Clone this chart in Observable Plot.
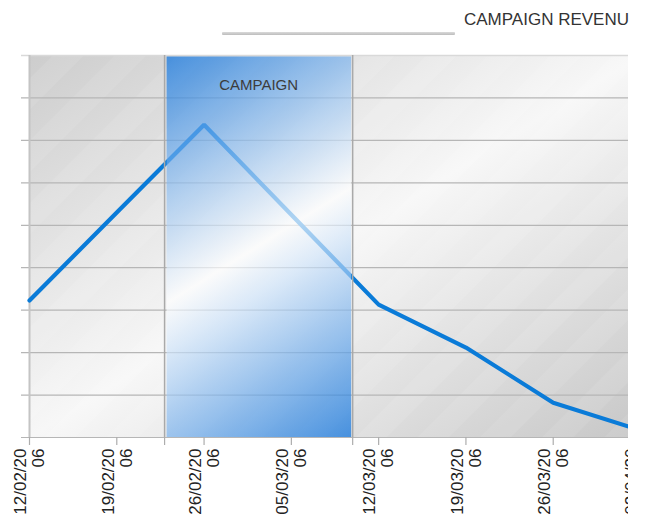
<!DOCTYPE html>
<html>
<head>
<meta charset="utf-8">
<script src="https://cdn.jsdelivr.net/npm/d3@7"></script>
<script src="https://cdn.jsdelivr.net/npm/@observablehq/plot@0.6"></script>
<style>
  body { margin: 0; background: #fff; font-family: "Liberation Sans", Arial, sans-serif; }
  #header { position: relative; width: 645px; height: 45px; }
  #title { position: absolute; left: 464px; top: 11px; font-size: 17px; line-height: 17px; color: #333; white-space: nowrap; }
  #bar { position: absolute; left: 222px; top: 32px; width: 233px; height: 3px;
         background: linear-gradient(to bottom, #dadada, #bdbdbd); border-radius: 1px; }
  #wrap { position: relative; width: 628px; height: 473px; overflow: hidden; background: #fff; }
  #chart { width: 660px; }
  #chart svg { display: block; max-width: none !important; }
</style>
</head>
<body>
<div id="header"><div id="bar"></div><div id="title">CAMPAIGN REVENU</div></div>
<div id="wrap"><div id="chart"></div></div>
<script>
// ---- data ----
const dates = ["2006-02-12", "2006-02-19", "2006-02-26", "2006-03-05", "2006-03-12", "2006-03-19", "2006-03-26", "2006-04-02"];
const revenue = [323, 530, 737, 525, 313, 212, 82, 17];
const dateLabels = ["12/02/2006", "19/02/2006", "26/02/2006", "05/03/2006", "12/03/2006", "19/03/2006", "26/03/2006", "02/04/2006"];
const yTicks = [0, 100, 200, 300, 400, 500, 600, 700, 800, 900];
const campaignLabel = "CAMPAIGN";
const campaignSpan = ["2006-02-22T20:00Z", "2006-03-09T22:00Z"];

const parse = s => new Date(s.length === 10 ? s + "T00:00Z" : s);
const data = dates.map((d, i) => ({date: parse(d), value: revenue[i]}));
const ticks = dates.map((d, i) => ({date: parse(d), label: dateLabels[i].slice(0, 8) + "\n" + dateLabels[i].slice(8)}));
const band = [{x1: parse(campaignSpan[0]), x2: parse(campaignSpan[1]), label: campaignLabel}];
const edges = [parse(campaignSpan[0]), parse(campaignSpan[1])];

const W = 660, H = 473, mT = 10, mB = 81, mL = 29, mR = 20;

const svg = Plot.plot({
  width: W, height: H,
  marginTop: mT, marginBottom: mB, marginLeft: mL, marginRight: mR,
  style: {fontFamily: "'Liberation Sans', Arial, sans-serif", background: "transparent", overflow: "visible", maxWidth: "none"},
  x: {type: "utc", domain: [parse(dates[0]), parse(dates[dates.length - 1])], axis: null},
  y: {domain: [0, 900], axis: null},
  marks: [
    Plot.frame({fill: "url(#bgGrad)", stroke: "none"}),
    Plot.frame({fill: "url(#stripes)", stroke: "none"}),
    Plot.ruleY(yTicks.filter(v => v < 900), {y: d => d, stroke: "#b6b6b6", strokeWidth: 1.2, insetLeft: -8}),
    Plot.ruleY([900], {y: d => d, stroke: "#d9d9d9", strokeWidth: 1.5, insetLeft: -8}),
    Plot.ruleX([parse(dates[0])], {x: d => d, y1: 0, y2: 900, stroke: "#c4c4c4", strokeWidth: 2}),
    Plot.line(data, {x: "date", y: "value", stroke: "#0a7bd8", strokeWidth: 4.2, strokeLinejoin: "miter"}),
    Plot.rect(band, {x1: "x1", x2: "x2", y1: 0, y2: 900, fill: "url(#bandGrad)", fillOpacity: 0.68, insetLeft: 2.5, insetRight: 1, insetTop: 1.5}),
    Plot.ruleX(edges, {x: d => d, y1: 0, y2: 900, stroke: "#a9a9a9", strokeWidth: 1.5}),
    Plot.ruleX([...ticks.map(t => t.date), ...edges], {x: d => d, y1: 0, y2: 0, insetBottom: -8, stroke: "#adadad", strokeWidth: 1.2}),
    Plot.text(band, {x: d => new Date((+d.x1 + +d.x2) / 2), text: "label", frameAnchor: "top", dy: 30, lineAnchor: "middle", fontSize: 15, fill: "#3c3c3c"}),
    Plot.text(ticks, {x: "date", text: "label", frameAnchor: "bottom", dy: 11, rotate: -90, textAnchor: "end", lineAnchor: "middle", lineHeight: 18 / 17, fontSize: 17, fill: "#222"})
  ]
});

// gradients and stripe pattern in pixel space from the scales
const xs = svg.scale("x");
const bx1 = xs.apply(band[0].x1), bx2 = xs.apply(band[0].x2);
const pTop = mT, pBot = H - mB;
const pw = (W - mR) - mL, ph = pBot - pTop;
const nrm = Math.hypot(ph, pw);
const ux = ph / nrm, uy = pw / nrm;
const cx = (bx1 + bx2) / 2, cy = (pTop + pBot) / 2;
const half = Math.abs((bx2 - bx1) / 2 * ux) + Math.abs(ph / 2 * uy);

const defs = d3.select(svg).insert("defs", ":first-child");
const bg = defs.append("linearGradient").attr("id", "bgGrad").attr("x1", 0).attr("y1", 0).attr("x2", 1).attr("y2", 1);
[[0, "#cdcdcd"], [0.5, "#f7f7f7"], [1, "#c7c7c7"]].forEach(([o, c]) => bg.append("stop").attr("offset", o).attr("stop-color", c));

const bgr = defs.append("linearGradient").attr("id", "bandGrad").attr("gradientUnits", "userSpaceOnUse")
  .attr("x1", cx - half * ux).attr("y1", cy - half * uy).attr("x2", cx + half * ux).attr("y2", cy + half * uy);
[[0, "rgb(0,108,222)"], [0.5, "#ffffff"], [1, "rgb(0,108,222)"]].forEach(([o, c]) => bgr.append("stop").attr("offset", o).attr("stop-color", c));

const pat = defs.append("pattern").attr("id", "stripes").attr("patternUnits", "userSpaceOnUse")
  .attr("width", 44).attr("height", 44).attr("patternTransform", "rotate(45)");
pat.append("rect").attr("x", 0).attr("y", 0).attr("width", 22).attr("height", 44).attr("fill", "#ffffff").attr("fill-opacity", 0.08);

document.getElementById("chart").appendChild(svg);
</script>
</body>
</html>
